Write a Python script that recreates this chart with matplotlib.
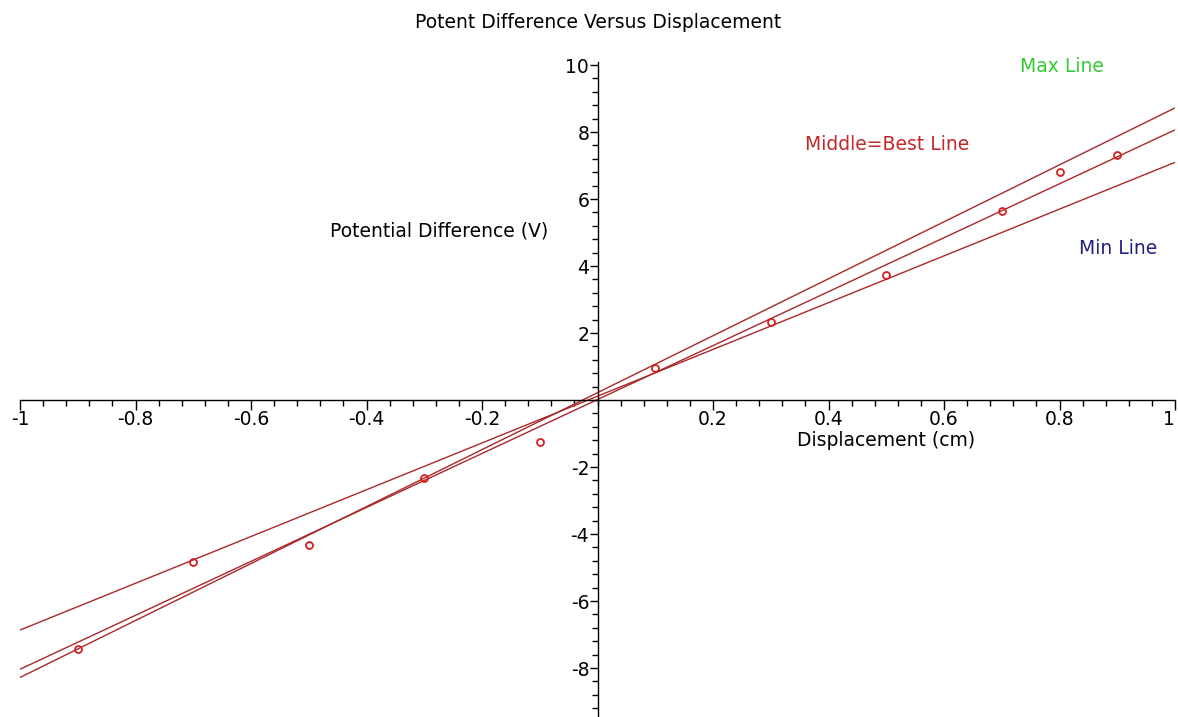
import numpy as np
import matplotlib
matplotlib.use("Agg")
import matplotlib.pyplot as plt
from matplotlib.ticker import MultipleLocator, FixedLocator

# Data
disp = [-0.9, -0.7, -0.5, -0.3, -0.1, 0.1, 0.3, 0.5, 0.7, 0.8, 0.9]
volt = [-7.42, -4.82, -4.32, -2.32, -1.25, 0.95, 2.32, 3.72, 5.65, 6.82, 7.3]

# Fitted lines (slope, intercept)
line_names = ["Max Line", "Middle=Best Line", "Min Line"]
slopes = [8.50, 8.05, 6.98]
intercepts = [0.22, 0.015, 0.115]

x_ticks = [-1, -0.8, -0.6, -0.4, -0.2, 0.2, 0.4, 0.6, 0.8, 1]
x_tick_labels = ["-1", "-0.8", "-0.6", "-0.4", "-0.2", "0.2", "0.4", "0.6", "0.8", "1"]
y_ticks = [-8, -6, -4, -2, 2, 4, 6, 8, 10]
y_tick_labels = ["-8", "-6", "-4", "-2", "2", "4", "6", "8", "10"]

plt.rcParams['font.family'] = ['DejaVu Sans']

W, H = 1178, 717
fig = plt.figure(figsize=(W / 100, H / 100), dpi=100)
x0, x1 = 20, 1175
ytop, ybot = 62, 717
ax = fig.add_axes([x0 / W, (H - ybot) / H, (x1 - x0) / W, (ybot - ytop) / H])
ax.set_xlim(-1, 1)
ax.set_ylim(-9.46, 10.09)

for sp in ["top", "right"]:
    ax.spines[sp].set_visible(False)
ax.spines["left"].set_position(("data", 0))
ax.spines["bottom"].set_position(("data", 0))
for sp in ["left", "bottom"]:
    ax.spines[sp].set_linewidth(1.0)

line_color = "#a8282a"
xs = np.array([-1.0, 1.0])
for m, b in zip(slopes, intercepts):
    ax.plot(xs, m * xs + b, color=line_color, lw=1.0, solid_capstyle="butt")

ax.plot(disp, volt, linestyle="none", marker="o", markersize=5,
        markerfacecolor="none", markeredgecolor="#d42020", markeredgewidth=1.3)

ax.xaxis.set_major_locator(FixedLocator(x_ticks))
ax.set_xticklabels(x_tick_labels)
ax.xaxis.set_minor_locator(MultipleLocator(0.04))
ax.yaxis.set_major_locator(FixedLocator(y_ticks))
ax.set_yticklabels(y_tick_labels)
ax.yaxis.set_minor_locator(MultipleLocator(0.4))

fs = 13.5
ax.tick_params(axis="x", which="major", direction="out", length=7, width=1, labelsize=fs, pad=0)
ax.tick_params(axis="x", which="minor", direction="out", length=4, width=1)
ax.tick_params(axis="y", which="major", direction="out", length=6, width=1, labelsize=fs, pad=0)
ax.tick_params(axis="y", which="minor", direction="out", length=4, width=1)
ax.get_xticklabels()[-1].set_horizontalalignment("right")

def px(xp, yp):
    return (xp / W, 1 - yp / H)

fig.text(*px(598, 22), "Potent Difference Versus Displacement", ha="center", va="center", fontsize=fs)
fig.text(*px(548, 231), "Potential Difference (V)", ha="right", va="center", fontsize=fs)
fig.text(*px(886, 440), "Displacement (cm)", ha="center", va="center", fontsize=fs)
fig.text(*px(1062, 66), line_names[0], ha="center", va="center", fontsize=fs, color="#33cc33")
fig.text(*px(887, 145), line_names[1], ha="center", va="center", fontsize=fs, color="#c0282a")
fig.text(*px(1118, 248), line_names[2], ha="center", va="center", fontsize=fs, color="#202080")

fig.savefig("out.png", dpi=100)
